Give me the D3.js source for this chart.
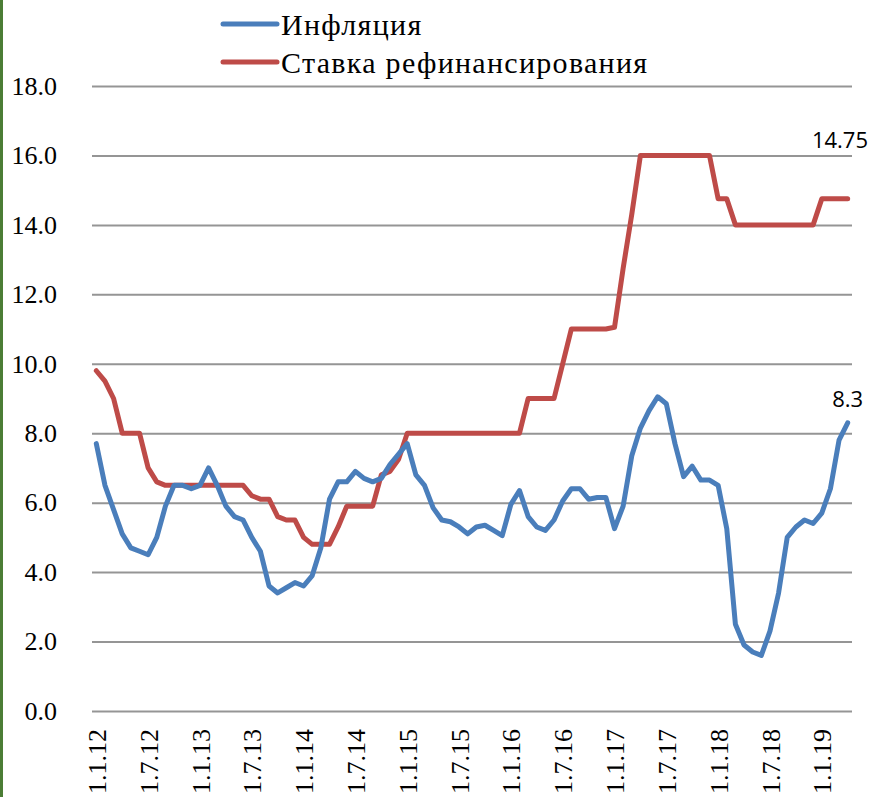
<!DOCTYPE html>
<html>
<head>
<meta charset="utf-8">
<script src="https://cdn.jsdelivr.net/npm/d3@7"></script>
<style>
  body { margin: 0; background: #fff; }
</style>
</head>
<body>
<div id="chart"></div>
<script>
// monthly series, Jan 2012 .. Apr 2019
var inflation = [
  7.7, 6.5, 5.8, 5.1, 4.7, 4.6, 4.5, 5.0, 5.9, 6.5, 6.5, 6.4,
  6.5, 7.0, 6.5, 5.9, 5.6, 5.5, 5.0, 4.6, 3.6, 3.4, 3.55, 3.7,
  3.6, 3.9, 4.7, 6.1, 6.6, 6.6, 6.9, 6.7, 6.6, 6.7, 7.1, 7.4,
  7.7, 6.8, 6.5, 5.85, 5.5, 5.45, 5.3, 5.1, 5.3, 5.35, 5.2, 5.05,
  5.95, 6.35, 5.6, 5.3, 5.2, 5.5, 6.05, 6.4, 6.4, 6.1, 6.15, 6.15,
  5.25, 5.9, 7.35, 8.15, 8.65, 9.05, 8.85, 7.7, 6.75, 7.05, 6.65, 6.65,
  6.5, 5.25, 2.5, 1.9, 1.7, 1.6, 2.3, 3.4, 5.0, 5.3, 5.5, 5.4,
  5.7, 6.4, 7.8, 8.3
];
var refiRate = [
  9.8, 9.5, 9.0, 8.0, 8.0, 8.0, 7.0, 6.6, 6.5, 6.5, 6.5, 6.5,
  6.5, 6.5, 6.5, 6.5, 6.5, 6.5, 6.2, 6.1, 6.1, 5.6, 5.5, 5.5,
  5.0, 4.8, 4.8, 4.8, 5.3, 5.9, 5.9, 5.9, 5.9, 6.8, 6.9, 7.25,
  8.0, 8.0, 8.0, 8.0, 8.0, 8.0, 8.0, 8.0, 8.0, 8.0, 8.0, 8.0,
  8.0, 8.0, 9.0, 9.0, 9.0, 9.0, 10.0, 11.0, 11.0, 11.0, 11.0, 11.0,
  11.05, 12.75, 14.3, 16.0, 16.0, 16.0, 16.0, 16.0, 16.0, 16.0, 16.0, 16.0,
  14.75, 14.75, 14.0, 14.0, 14.0, 14.0, 14.0, 14.0, 14.0, 14.0, 14.0, 14.0,
  14.75, 14.75, 14.75, 14.75
];
var months = d3.timeMonth.range(new Date(2012, 0, 1), new Date(2019, 4, 1));
var tickLabels = ["1.1.12", "1.7.12", "1.1.13", "1.7.13", "1.1.14", "1.7.14", "1.1.15",
  "1.7.15", "1.1.16", "1.7.16", "1.1.17", "1.7.17", "1.1.18", "1.7.18", "1.1.19"];
var yTicks = [0, 2, 4, 6, 8, 10, 12, 14, 16, 18];
var seriesNames = ["Инфляция", "Ставка рефинансирования"];

var drawChart = function() {
  var width = 874, height = 797;
  var left = 92, right = 852, top = 86, bottom = 711;
  var blue = "#4a7ebb", red = "#be4b48";
  var serif = "'Liberation Serif', 'DejaVu Serif', serif";

  var svg = d3.select("#chart").append("svg")
    .attr("width", width)
    .attr("height", height)
    .style("display", "block");

  svg.append("rect").attr("width", width).attr("height", height).attr("fill", "#fff");
  // green strip at the left edge of the original
  svg.append("rect").attr("x", 0).attr("y", 0).attr("width", 3).attr("height", height).attr("fill", "#4b7d35");

  var x = d3.scalePoint()
    .domain(months)
    .range([left, right])
    .padding(0.5);
  var y = d3.scaleLinear()
    .domain([0, 18])
    .range([bottom, top]);

  // y axis + gridlines
  var yAxis = svg.append("g")
    .attr("transform", `translate(${left},0)`)
    .call(d3.axisLeft(y).tickValues(yTicks).tickFormat(d3.format(".1f"))
      .tickSizeInner(-(right - left)).tickSizeOuter(0).tickPadding(35));
  yAxis.select(".domain").remove();
  yAxis.selectAll("line").attr("stroke", "#959595").attr("stroke-width", 2);
  yAxis.selectAll("text")
    .attr("fill", "#000")
    .style("font-family", serif)
    .style("font-size", "26px");

  // x axis labels, rotated
  var tickMonths = months.filter(function(d, i) { return i % 6 === 0 });
  var xAxis = svg.append("g")
    .attr("transform", `translate(0,${bottom})`)
    .call(d3.axisBottom(x).tickValues(tickMonths)
      .tickFormat(function(d, i) { return tickLabels[i] }).tickSize(0));
  xAxis.select(".domain").remove();
  xAxis.selectAll("text")
    .attr("transform", "rotate(-90)")
    .attr("x", -18)
    .attr("y", 0)
    .attr("dy", "0.35em")
    .attr("fill", "#000")
    .style("text-anchor", "end")
    .style("font-family", serif)
    .style("font-size", "26px");

  // lines
  var line = function(values) {
    return d3.line()
      .x(function(d, i) { return x(months[i]) })
      .y(function(d) { return y(d) })(values);
  };
  svg.append("path")
    .attr("d", line(refiRate))
    .attr("fill", "none")
    .attr("stroke", red)
    .attr("stroke-width", 5)
    .attr("stroke-linejoin", "round")
    .attr("stroke-linecap", "round");
  svg.append("path")
    .attr("d", line(inflation))
    .attr("fill", "none")
    .attr("stroke", blue)
    .attr("stroke-width", 5)
    .attr("stroke-linejoin", "round")
    .attr("stroke-linecap", "round");

  // end labels
  var lastI = months.length - 1;
  var sans = "'Open Sans', 'Noto Sans', sans-serif";
  svg.append("text")
    .text(refiRate[lastI])
    .attr("x", 868)
    .attr("y", y(refiRate[lastI]) - 51)
    .attr("text-anchor", "end")
    .style("font-family", sans)
    .style("font-size", "22px");
  svg.append("text")
    .text(inflation[lastI])
    .attr("x", x(months[lastI]))
    .attr("y", y(inflation[lastI]) - 16)
    .attr("text-anchor", "middle")
    .style("font-family", sans)
    .style("font-size", "22px");

  // legend
  var legend = svg.append("g").selectAll("g")
    .data(seriesNames)
    .join("g")
    .attr("transform", function(d, i) { return `translate(223,${24 + i * 38})` });
  legend.append("line")
    .attr("x1", 0).attr("x2", 54)
    .attr("stroke", function(d, i) { return i === 0 ? blue : red })
    .attr("stroke-width", 5)
    .attr("stroke-linecap", "round");
  legend.append("text")
    .text(function(d) { return d })
    .attr("x", 58)
    .attr("dy", "0.35em")
    .style("font-family", serif)
    .style("font-size", "30px")
    .style("letter-spacing", "1.3px");
};

window.addEventListener("load", drawChart);
</script>
</body>
</html>
